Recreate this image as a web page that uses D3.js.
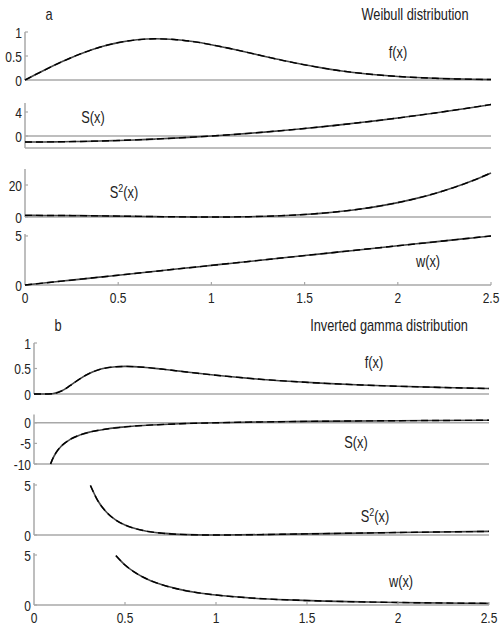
<!DOCTYPE html>
<html>
<head>
<meta charset="utf-8">
<script src="https://cdn.jsdelivr.net/npm/d3@7"></script>
<style>
  html, body { margin: 0; padding: 0; background: #fff; }
  svg { display: block; }
</style>
</head>
<body>
<div id="chart"></div>
<script>
// ---- panel a : Weibull distribution ----
const xA = [0, 0.1, 0.2, 0.3, 0.4, 0.5, 0.6, 0.7, 0.8, 0.9, 1.0, 1.1, 1.2,
            1.3, 1.4, 1.5, 1.6, 1.7, 1.8, 1.9, 2.0, 2.1, 2.2, 2.3, 2.4, 2.5];
const fA = [0, 0.198, 0.384, 0.548, 0.682, 0.779, 0.837, 0.858, 0.844, 0.801, 0.736, 0.656, 0.569,
            0.480, 0.394, 0.316, 0.247, 0.189, 0.141, 0.103, 0.073, 0.051, 0.035, 0.023, 0.015, 0.010];
const sA = [-1, -0.99, -0.96, -0.91, -0.84, -0.75, -0.64, -0.51, -0.36, -0.19, 0, 0.21, 0.44,
            0.69, 0.96, 1.25, 1.56, 1.89, 2.24, 2.61, 3.0, 3.41, 3.84, 4.29, 4.76, 5.25];
const s2A = [1, 0.98, 0.92, 0.83, 0.71, 0.56, 0.41, 0.26, 0.13, 0.04, 0, 0.04, 0.19,
             0.48, 0.92, 1.56, 2.43, 3.57, 5.02, 6.81, 9.0, 11.63, 14.75, 18.4, 22.66, 27.56];
const wA = [0, 0.2, 0.4, 0.6, 0.8, 1.0, 1.2, 1.4, 1.6, 1.8, 2.0, 2.2, 2.4,
            2.6, 2.8, 3.0, 3.2, 3.4, 3.6, 3.8, 4.0, 4.2, 4.4, 4.6, 4.8, 5.0];

// ---- panel b : Inverted gamma distribution ----
const xfB = [0, 0.05, 0.1, 0.15, 0.2, 0.25, 0.3, 0.35, 0.4, 0.45, 0.5, 0.6, 0.7, 0.8, 0.9, 1.0,
             1.2, 1.4, 1.6, 1.8, 2.0, 2.25, 2.5];
const fB = [0, 0, 0.0045, 0.057, 0.168, 0.293, 0.396, 0.469, 0.513, 0.535, 0.541, 0.525, 0.489,
            0.448, 0.406, 0.368, 0.302, 0.250, 0.209, 0.177, 0.152, 0.127, 0.107];
const xsB = [0.091, 0.1, 0.12, 0.15, 0.2, 0.25, 0.3, 0.4, 0.5, 0.6, 0.8, 1.0, 1.25, 1.5, 2.0, 2.5];
const sB = [-10, -9, -7.33, -5.67, -4, -3, -2.33, -1.5, -1, -0.67, -0.25, 0, 0.2, 0.33, 0.5, 0.6];
const xs2B = [0.31, 0.35, 0.4, 0.45, 0.5, 0.6, 0.7, 0.8, 0.9, 1.0, 1.25, 1.5, 2.0, 2.5];
const s2B = [4.95, 3.45, 2.25, 1.49, 1, 0.444, 0.184, 0.0625, 0.012, 0, 0.04, 0.111, 0.25, 0.36];
const xwB = [0.45, 0.5, 0.55, 0.6, 0.7, 0.8, 0.9, 1.0, 1.2, 1.4, 1.6, 1.8, 2.0, 2.25, 2.5];
const wB = [4.94, 4, 3.31, 2.78, 2.04, 1.56, 1.23, 1, 0.69, 0.51, 0.39, 0.31, 0.25, 0.20, 0.16];

const xTicks = [0, 0.5, 1, 1.5, 2, 2.5];
const xTickLabels = ["0", "0.5", "1", "1.5", "2", "2.5"];

const width = 501;
const height = 628;
const axisColor = "#a8a8a8";
const textColor = "#222";
const fontFamily = "'Liberation Sans', Arial, sans-serif";
const squeeze = 0.8;

const svg = d3.select("#chart").append("svg")
  .attr("width", width)
  .attr("height", height);

// text squeezed horizontally like the scanned figure
function label(g, x, y, txt, size, anchor) {
  const t = g.append("text")
    .attr("transform", `translate(${x},${y}) scale(${squeeze},1)`)
    .attr("text-anchor", anchor || "middle")
    .style("font-family", fontFamily)
    .style("font-size", `${size}px`)
    .style("fill", textColor);
  if (Array.isArray(txt)) {
    // [base, sup, rest]
    t.append("tspan").text(txt[0]);
    t.append("tspan").attr("dy", -6).style("font-size", `${size * 0.7}px`).text(txt[1]);
    t.append("tspan").attr("dy", 6).text(txt[2]);
  } else {
    t.text(txt);
  }
  return t;
}

function drawPanel(cfg) {
  const g = svg.append("g");
  const x = d3.scaleLinear().domain([0, 2.5]).range([cfg.left, cfg.right]);

  label(g, cfg.tagX, cfg.titleY, cfg.tag, 16, "middle");
  label(g, cfg.titleX, cfg.titleY, cfg.title, 16, "middle");

  cfg.plots.forEach((p, i) => {
    const y = d3.scaleLinear().domain(p.domain).range([p.bottom, p.top]);

    // horizontal gray lines (bottom of box and zero line)
    p.hlines.forEach(v => {
      g.append("line")
        .attr("x1", cfg.left).attr("x2", cfg.right)
        .attr("y1", y(v)).attr("y2", y(v))
        .attr("stroke", axisColor).attr("stroke-width", 1.5);
    });

    // left axis
    g.append("line")
      .attr("x1", cfg.left).attr("x2", cfg.left)
      .attr("y1", p.top).attr("y2", p.bottom)
      .attr("stroke", axisColor).attr("stroke-width", 1.5);

    p.ticks.forEach((tv, k) => {
      g.append("line")
        .attr("x1", cfg.left).attr("x2", cfg.left + 3)
        .attr("y1", y(tv)).attr("y2", y(tv))
        .attr("stroke", axisColor).attr("stroke-width", 1.2);
      label(g, cfg.left - 3, y(tv) + 5.5, p.tickLabels[k], 15, "end");
    });

    const line = d3.line()
      .x((d, k) => x(p.xs[k]))
      .y(d => y(d))
      .curve(d3.curveMonotoneX);

    g.append("path")
      .datum(p.ys)
      .attr("d", line)
      .attr("fill", "none")
      .attr("stroke", "#444")
      .attr("stroke-width", 1.6);
    g.append("path")
      .datum(p.ys)
      .attr("d", line)
      .attr("fill", "none")
      .attr("stroke", "#000")
      .attr("stroke-width", 1.4)
      .attr("stroke-dasharray", "7,4");

    label(g, p.labelX, p.labelY, p.label, 16, "middle");

    // x ticks only on the last plot
    if (i === cfg.plots.length - 1) {
      xTicks.forEach((tv, k) => {
        if (k > 0) {
          g.append("line")
            .attr("x1", x(tv)).attr("x2", x(tv))
            .attr("y1", p.bottom).attr("y2", p.bottom - 3)
            .attr("stroke", axisColor).attr("stroke-width", 1.2);
        }
        label(g, x(tv), p.bottom + 18, xTickLabels[k], 15, "middle");
      });
    }
  });
}

drawPanel({
  left: 25, right: 491,
  tag: "a", tagX: 49, title: "Weibull distribution", titleX: 415, titleY: 20,
  plots: [
    { top: 32, bottom: 80, domain: [0, 1], ticks: [0, 0.5, 1], tickLabels: ["0", "0.5", "1"],
      hlines: [0], xs: xA, ys: fA, label: "f(x)", labelX: 398, labelY: 58 },
    { top: 103, bottom: 148, domain: [-2, 5.5], ticks: [0, 4], tickLabels: ["0", "4"],
      hlines: [-2, 0], xs: xA, ys: sA, label: "S(x)", labelX: 93, labelY: 123 },
    { top: 169, bottom: 217, domain: [0, 30], ticks: [0, 20], tickLabels: ["0", "20"],
      hlines: [0], xs: xA, ys: s2A, label: ["S", "2", "(x)"], labelX: 124, labelY: 198 },
    { top: 234, bottom: 285, domain: [0, 5.2], ticks: [0, 5], tickLabels: ["0", "5"],
      hlines: [0], xs: xA, ys: wA, label: "w(x)", labelX: 428, labelY: 267 }
  ]
});

drawPanel({
  left: 34, right: 489,
  tag: "b", tagX: 58, title: "Inverted gamma distribution", titleX: 389, titleY: 331,
  plots: [
    { top: 343, bottom: 394, domain: [0, 1], ticks: [0, 0.5, 1], tickLabels: ["0", "0.5", "1"],
      hlines: [0], xs: xfB, ys: fB, label: "f(x)", labelX: 374, labelY: 368 },
    { top: 414.5, bottom: 464, domain: [-10, 2], ticks: [-10, -5, 0], tickLabels: ["-10", "-5", "0"],
      hlines: [-10, 0], xs: xsB, ys: sB, label: "S(x)", labelX: 356, labelY: 448 },
    { top: 483, bottom: 535, domain: [0, 5.2], ticks: [0, 5], tickLabels: ["0", "5"],
      hlines: [0], xs: xs2B, ys: s2B, label: ["S", "2", "(x)"], labelX: 375, labelY: 522 },
    { top: 553, bottom: 605, domain: [0, 5.2], ticks: [0, 5], tickLabels: ["0", "5"],
      hlines: [0], xs: xwB, ys: wB, label: "w(x)", labelX: 401, labelY: 587 }
  ]
});
</script>
</body>
</html>
